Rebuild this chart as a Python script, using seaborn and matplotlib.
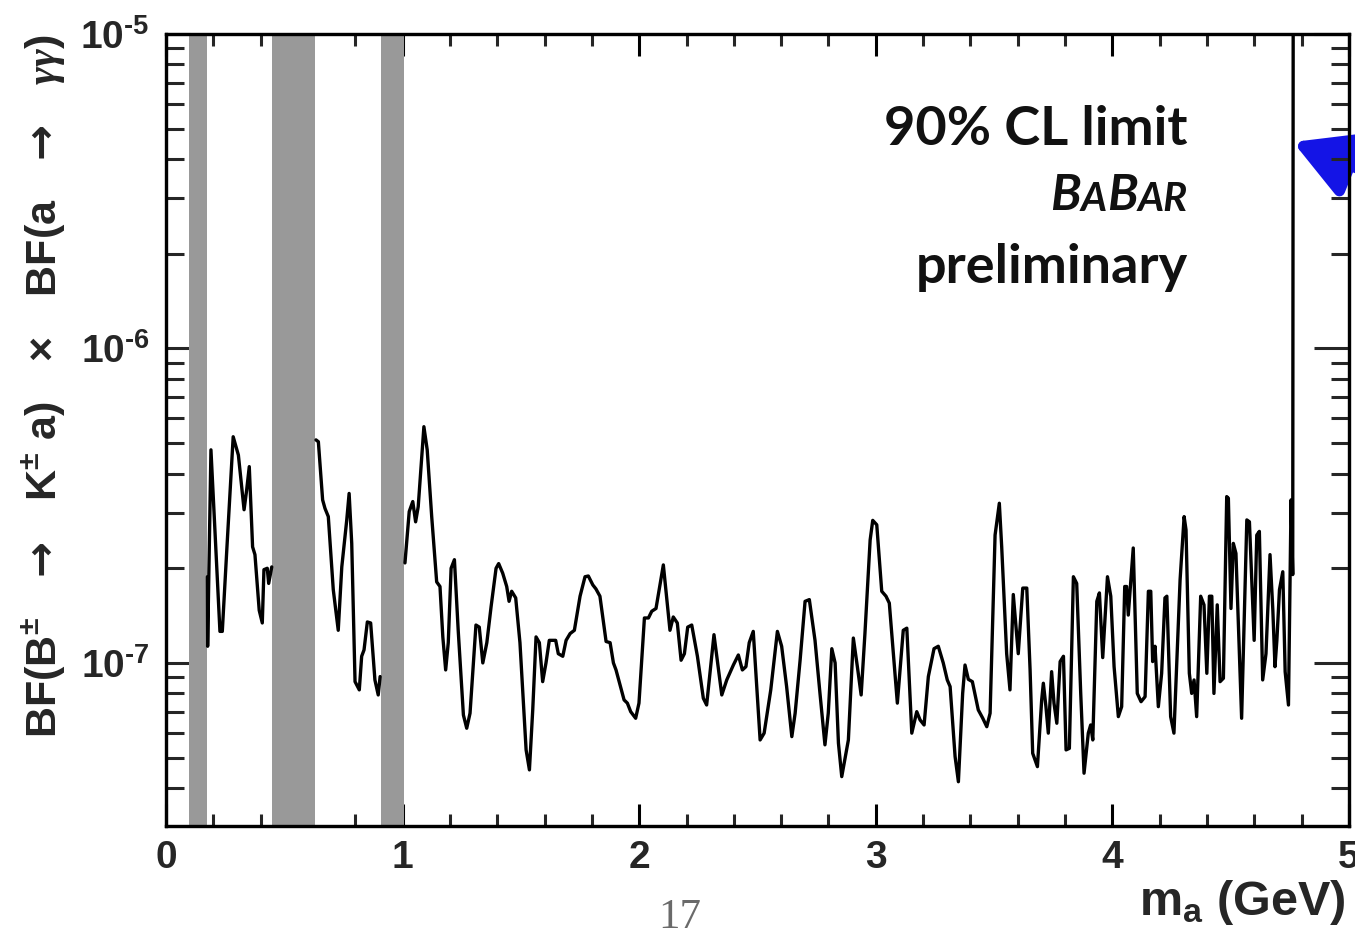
import numpy as np
import pandas as pd
import matplotlib
matplotlib.use("Agg")
import matplotlib.pyplot as plt
import seaborn as sns
from matplotlib.ticker import MultipleLocator, FixedLocator, FixedFormatter, LogLocator, NullFormatter

# ---------------- data ----------------
# 90% CL upper limit on BF(B+- -> K+- a) x BF(a -> gamma gamma), in units of 1e-7
mass_seg0 = [0.175, 0.176, 0.190, 0.228, 0.238, 0.257, 0.284, 0.306, 0.330, 0.341,
             0.352, 0.366, 0.376, 0.394, 0.407, 0.414, 0.428, 0.434, 0.447]
bf_seg0 = [1.88, 1.13, 4.76, 1.26, 1.26, 2.29, 5.24, 4.58, 3.07, 3.55,
           4.21, 2.34, 2.21, 1.47, 1.34, 1.98, 2.00, 1.79, 2.02]

mass_seg1 = [0.634, 0.644, 0.662, 0.672, 0.686, 0.707, 0.728, 0.743, 0.764, 0.774,
             0.785, 0.799, 0.817, 0.827, 0.837, 0.851, 0.865, 0.883, 0.897, 0.905]
bf_seg1 = [5.12, 5.05, 3.30, 3.10, 2.92, 1.71, 1.27, 2.02, 2.85, 3.46,
           2.40, 0.872, 0.821, 1.05, 1.10, 1.35, 1.34, 0.883, 0.791, 0.905]

mass_seg2 = [1.010, 1.028, 1.043, 1.055, 1.066, 1.090, 1.104, 1.123, 1.144, 1.158,
             1.170, 1.182, 1.193, 1.205, 1.219, 1.235, 1.257, 1.271, 1.285, 1.310,
             1.324, 1.339, 1.356, 1.374, 1.395, 1.406, 1.423, 1.440, 1.450, 1.461,
             1.478, 1.496, 1.522, 1.536, 1.550, 1.564, 1.578, 1.592, 1.606, 1.620,
             1.647, 1.658, 1.677, 1.691, 1.708, 1.726, 1.750, 1.771, 1.785, 1.804,
             1.817, 1.834, 1.860, 1.877, 1.891, 1.902, 1.936, 1.950, 1.964, 1.985,
             1.999, 2.022, 2.039, 2.053, 2.071, 2.102, 2.130, 2.144, 2.161, 2.177,
             2.191, 2.205, 2.222, 2.246, 2.271, 2.285, 2.316, 2.349, 2.370, 2.398,
             2.419, 2.436, 2.451, 2.465, 2.482, 2.511, 2.528, 2.556, 2.584, 2.602,
             2.623, 2.645, 2.659, 2.680, 2.701, 2.719, 2.743, 2.764, 2.785, 2.799,
             2.814, 2.828, 2.842, 2.856, 2.884, 2.905, 2.922, 2.938, 2.954, 2.976,
             2.987, 3.004, 3.025, 3.043, 3.057, 3.074, 3.091, 3.116, 3.131, 3.152,
             3.173, 3.187, 3.204, 3.222, 3.246, 3.264, 3.285, 3.302, 3.314, 3.335,
             3.349, 3.367, 3.377, 3.391, 3.408, 3.433, 3.452, 3.469, 3.483, 3.504,
             3.522, 3.532, 3.553, 3.567, 3.581, 3.602, 3.621, 3.638, 3.652, 3.663,
             3.683, 3.701, 3.708, 3.719, 3.729, 3.743, 3.753, 3.765, 3.779, 3.793,
             3.804, 3.818, 3.835, 3.849, 3.866, 3.880, 3.898, 3.908, 3.917, 3.934,
             3.945, 3.959, 3.979, 3.993, 4.007, 4.025, 4.039, 4.052, 4.060, 4.067,
             4.088, 4.105, 4.121, 4.138, 4.152, 4.162, 4.170, 4.180, 4.194, 4.208,
             4.222, 4.230, 4.246, 4.260, 4.286, 4.303, 4.311, 4.325, 4.335, 4.345,
             4.356, 4.373, 4.387, 4.399, 4.410, 4.420, 4.429, 4.443, 4.455, 4.469,
             4.483, 4.490, 4.501, 4.511, 4.522, 4.546, 4.568, 4.579, 4.599, 4.610,
             4.621, 4.635, 4.649, 4.666, 4.678, 4.687, 4.695, 4.706, 4.720, 4.730,
             4.744, 4.755, 4.762, 4.765]
bf_seg2 = [2.08, 3.03, 3.26, 2.81, 3.14, 5.64, 4.76, 2.92, 1.81, 1.75,
           1.21, 0.950, 1.16, 2.00, 2.13, 1.27, 0.683, 0.620, 0.692, 1.32,
           1.30, 1.00, 1.16, 1.51, 2.00, 2.07, 1.93, 1.75, 1.57, 1.69,
           1.61, 1.16, 0.529, 0.457, 0.709, 1.21, 1.16, 0.872, 1.00, 1.18,
           1.18, 1.07, 1.05, 1.18, 1.24, 1.27, 1.63, 1.88, 1.89, 1.77,
           1.72, 1.63, 1.17, 1.16, 1.00, 0.950, 0.763, 0.745, 0.700, 0.667,
           0.745, 1.39, 1.39, 1.46, 1.49, 2.05, 1.27, 1.40, 1.34, 1.02,
           1.07, 1.30, 1.32, 1.05, 0.772, 0.735, 1.23, 0.791, 0.883, 0.985,
           1.06, 0.950, 0.973, 1.16, 1.26, 0.569, 0.598, 0.821, 1.26, 1.13,
           0.841, 0.583, 0.692, 1.02, 1.57, 1.59, 1.18, 0.800, 0.549, 0.692,
           1.11, 1.00, 0.556, 0.435, 0.569, 1.20, 0.973, 0.791, 1.24, 2.46,
           2.84, 2.75, 1.69, 1.63, 1.55, 1.07, 0.745, 1.27, 1.29, 0.598,
           0.700, 0.659, 0.635, 0.905, 1.11, 1.13, 1.00, 0.883, 0.841, 0.504,
           0.419, 0.800, 0.985, 0.887, 0.872, 0.709, 0.667, 0.627, 0.692, 2.55,
           3.22, 2.34, 1.07, 0.821, 1.65, 1.07, 1.73, 1.73, 0.950, 0.516,
           0.468, 0.763, 0.862, 0.726, 0.598, 0.938, 0.745, 0.643, 1.01, 1.05,
           0.529, 0.535, 1.88, 1.79, 0.800, 0.446, 0.598, 0.635, 0.569, 1.57,
           1.67, 1.04, 1.88, 1.63, 0.973, 0.675, 0.726, 1.75, 1.75, 1.42,
           2.32, 0.800, 0.753, 0.781, 1.69, 1.69, 1.01, 1.13, 0.726, 0.927,
           1.61, 1.63, 0.675, 0.598, 1.84, 2.92, 2.65, 0.927, 0.800, 0.883,
           0.675, 1.63, 1.53, 0.927, 1.63, 1.63, 0.800, 1.53, 0.872, 0.894,
           3.38, 3.34, 1.49, 2.40, 2.23, 0.667, 2.85, 2.81, 1.18, 2.55,
           2.62, 0.883, 1.07, 2.21, 1.47, 0.973, 1.18, 1.71, 1.95, 0.938,
           0.735, 3.30, 1.91, 1000.0]

# vetoed mass regions (pi0, eta, eta')
band_lo = [0.099, 0.449, 0.907]
band_hi = [0.175, 0.631, 1.007]

x_ticks = [0, 1, 2, 3, 4, 5]
y_ticks = [1e-7, 1e-6, 1e-5]
y_tick_labels = [r"$10^{\text{-7}}$", r"$10^{\text{-6}}$", r"$10^{\text{-5}}$"]

# ---------------- style ----------------
sns.set_theme(style="ticks")
plt.rcParams["font.family"] = ["Liberation Sans", "DejaVu Sans"]
plt.rcParams["font.weight"] = "bold"
plt.rcParams["mathtext.fontset"] = "custom"
plt.rcParams["mathtext.rm"] = "Liberation Sans:bold"
plt.rcParams["mathtext.bf"] = "Liberation Sans:bold"
plt.rcParams["mathtext.it"] = "Liberation Serif:italic"
plt.rcParams["mathtext.sf"] = "DejaVu Sans"
plt.rcParams["mathtext.default"] = "rm"

fig = plt.figure(figsize=(13.55, 9.36), dpi=100)
ax = fig.add_axes([0.1225, 0.1175, 0.8731, 0.8462])

df = pd.DataFrame({
    "mass": mass_seg0 + mass_seg1 + mass_seg2,
    "bf": np.array(bf_seg0 + bf_seg1 + bf_seg2) * 1e-7,
    "seg": [0] * len(mass_seg0) + [1] * len(mass_seg1) + [2] * len(mass_seg2),
})

for lo, hi in zip(band_lo, band_hi):
    ax.axvspan(lo, hi, color="#999999", lw=0, zorder=1)

sns.lineplot(data=df, x="mass", y="bf", units="seg", estimator=None, sort=False,
             color="black", lw=2.4, ax=ax, legend=False, zorder=3)

ax.set_yscale("log")
ax.set_xlim(0, 5)
ax.set_ylim(3.03e-8, 1e-5)

ax.xaxis.set_major_locator(FixedLocator(x_ticks))
ax.xaxis.set_minor_locator(MultipleLocator(0.2))
ax.yaxis.set_major_locator(FixedLocator(y_ticks))
ax.yaxis.set_major_formatter(FixedFormatter(y_tick_labels))
ax.yaxis.set_minor_locator(LogLocator(base=10, subs=np.arange(2, 10)))
ax.yaxis.set_minor_formatter(NullFormatter())

ax.tick_params(axis="x", which="major", direction="in", length=16, width=2.2,
               top=True, bottom=True, labelsize=28, pad=10, color="black")
ax.tick_params(axis="x", which="minor", direction="in", length=8.5, width=2.2,
               top=True, bottom=True)
ax.tick_params(axis="y", which="major", direction="in", length=17.5, width=2.2,
               left=True, right=False, labelsize=28, pad=12)
ax.tick_params(axis="y", which="minor", direction="in", length=13, width=2.2,
               left=True, right=False)
for sp in ax.spines.values():
    sp.set_linewidth(2.3)
    sp.set_color("black")

# right-hand axis with longer major ticks
ax2 = ax.twinx()
ax2.set_yscale("log")
ax2.set_ylim(ax.get_ylim())
ax2.yaxis.set_major_locator(FixedLocator(y_ticks))
ax2.yaxis.set_minor_locator(LogLocator(base=10, subs=np.arange(2, 10)))
ax2.yaxis.set_major_formatter(NullFormatter())
ax2.yaxis.set_minor_formatter(NullFormatter())
ax2.tick_params(axis="y", which="major", direction="in", length=25, width=2.2)
ax2.tick_params(axis="y", which="minor", direction="in", length=13, width=2.2)
for sp in ax2.spines.values():
    sp.set_linewidth(2.3)
    sp.set_color("black")

ax.set_xlabel(r"m$_{\mathrm{a}}$ (GeV)", fontsize=35, fontweight="bold", loc="right")
ax.xaxis.set_label_coords(0.997, -0.066)
ax.set_ylabel(r"BF(B$^{\pm}\quad\mathsf{\rightarrow}\quad$K$^{\pm}$ a)$\quad\times\quad$"
              r"BF(a$\quad\mathsf{\rightarrow}\quad\mathit{\gamma\gamma}$)",
              fontsize=31, fontweight="bold", loc="top")
ax.yaxis.set_label_coords(-0.084, 1.0)

# overlay text
ov_font = ["Lato", "DejaVu Sans"]
xr = 1188 / 1355
fig.text(xr, 1 - 145 / 936, "90% CL limit", family=ov_font, weight="bold",
         size=39, ha="right", va="baseline", color="#111111")
t_ar = fig.text(xr, 1 - 218 / 936, "AR", family=ov_font, weight="bold", style="italic",
                size=29, ha="right", va="bottom", color="#111111")
t_b2 = ax.annotate("B", xy=(0, 0), xycoords=t_ar, family=ov_font, weight="bold",
                   style="italic", size=36, ha="right", va="bottom", color="#111111",
                   annotation_clip=False)
t_a = ax.annotate("A", xy=(0, 0), xycoords=t_b2, family=ov_font, weight="bold",
                  style="italic", size=29, ha="right", va="bottom", color="#111111",
                  annotation_clip=False)
ax.annotate("B", xy=(0, 0), xycoords=t_a, family=ov_font, weight="bold",
            style="italic", size=36, ha="right", va="bottom", color="#111111",
            annotation_clip=False)
fig.text(xr, 1 - 283 / 936, "preliminary", family=ov_font, weight="bold",
         size=39, ha="right", va="baseline", color="#111111")

# blue arrow at the upper right
ax.annotate("", xy=(1293, 936 - 142), xycoords="figure pixels",
            xytext=(1480, 936 - 218), textcoords="figure pixels",
            arrowprops=dict(arrowstyle="-|>,head_length=0.72,head_width=0.4",
                            color="#1414e6", lw=8, mutation_scale=50,
                            shrinkA=0, shrinkB=0),
            annotation_clip=False)

# page number
fig.text(680 / 1355, 1 - 918 / 936, "17", family=["Liberation Serif", "DejaVu Serif"],
         weight="normal", size=31, ha="center", va="center", color="#6a6a6a")

fig.savefig("out.png", dpi=100)
